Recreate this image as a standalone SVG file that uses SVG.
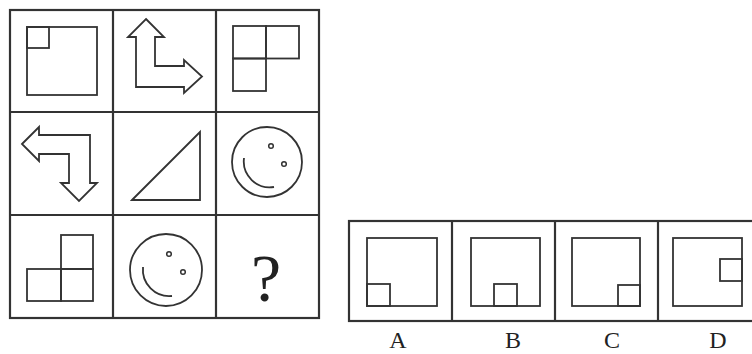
<svg xmlns="http://www.w3.org/2000/svg" width="752" height="354" viewBox="0 0 752 354">
<style>
.grid{fill:none;stroke:#333;stroke-width:2.2}
.sh{fill:none;stroke:#333;stroke-width:1.8;stroke-linejoin:miter}
.dot{fill:none;stroke:#333;stroke-width:1.5}
.lbl{font-family:"Liberation Serif",serif;font-size:24px;fill:#222;text-anchor:middle}
.q{font-family:"Liberation Serif",serif;font-size:68px;fill:#222;text-anchor:middle}
</style>
<rect width="752" height="354" fill="#fff"/>
<g id="grid">
<rect class="grid" x="10" y="10" width="309" height="308"/>
<line class="grid" x1="113" y1="10" x2="113" y2="318"/>
<line class="grid" x1="216" y1="10" x2="216" y2="318"/>
<line class="grid" x1="10" y1="112" x2="319" y2="112"/>
<line class="grid" x1="10" y1="215" x2="319" y2="215"/>
</g>
<g id="cell-1-1">
<rect class="sh" x="27" y="27" width="70" height="68"/>
<rect class="sh" x="27" y="27" width="22" height="21"/>
</g>
<g id="cell-1-2">
<path class="sh" d="M146 19 L164 37 L155 37 L155 66 L184 66 L184 60 L202 76.5 L184 93 L184 87 L136 87 L136 37 L128 37 Z"/>
</g>
<g id="cell-1-3">
<rect class="sh" x="233" y="26" width="33" height="32.5"/>
<rect class="sh" x="266" y="26" width="33" height="32.5"/>
<rect class="sh" x="233" y="58.5" width="33" height="32.5"/>
</g>
<g id="cell-2-1">
<path class="sh" d="M22 144 L39 127 L39 135 L90 135 L90 183 L97 183 L79 201 L61 183 L69 183 L69 154 L39 154 L39 161 Z"/>
</g>
<g id="cell-2-2">
<path class="sh" d="M132 200 L200 132 L200 200 Z"/>
</g>
<g id="cell-2-3">
<circle class="sh" cx="267" cy="162" r="35"/>
<circle class="dot" cx="271" cy="146" r="2.3"/>
<circle class="dot" cx="284" cy="164" r="2.3"/>
<path class="sh" d="M244 158 A26 26 0 0 0 274 187"/>
</g>
<g id="cell-3-1">
<rect class="sh" x="61" y="235" width="32" height="34"/>
<rect class="sh" x="27" y="269" width="34" height="32"/>
<rect class="sh" x="61" y="269" width="32" height="32"/>
</g>
<g id="cell-3-2">
<circle class="sh" cx="166" cy="270" r="36"/>
<circle class="dot" cx="169" cy="254" r="2.3"/>
<circle class="dot" cx="183" cy="272" r="2.3"/>
<path class="sh" d="M143 267 A26.5 26.5 0 0 0 172 296"/>
</g>
<g id="cell-3-3">
<text class="q" x="266" y="301">?</text>
</g>
<g id="options">
<rect class="grid" x="349" y="221" width="406" height="100"/>
<line class="grid" x1="452" y1="221" x2="452" y2="321"/>
<line class="grid" x1="555" y1="221" x2="555" y2="321"/>
<line class="grid" x1="658" y1="221" x2="658" y2="321"/>
</g>
<g id="option-A">
<rect class="sh" x="367" y="238" width="70" height="68"/>
<rect class="sh" x="367" y="284" width="23" height="22"/>
<text class="lbl" x="398" y="348">A</text>
</g>
<g id="option-B">
<rect class="sh" x="471" y="238" width="69" height="68"/>
<rect class="sh" x="494" y="284" width="23" height="22"/>
<text class="lbl" x="513" y="348">B</text>
</g>
<g id="option-C">
<rect class="sh" x="572" y="238" width="68" height="68"/>
<rect class="sh" x="618" y="285" width="22" height="21"/>
<text class="lbl" x="612" y="348">C</text>
</g>
<g id="option-D">
<rect class="sh" x="673" y="238" width="69" height="68"/>
<rect class="sh" x="720" y="259" width="22" height="22"/>
<text class="lbl" x="718" y="348">D</text>
</g>
</svg>
